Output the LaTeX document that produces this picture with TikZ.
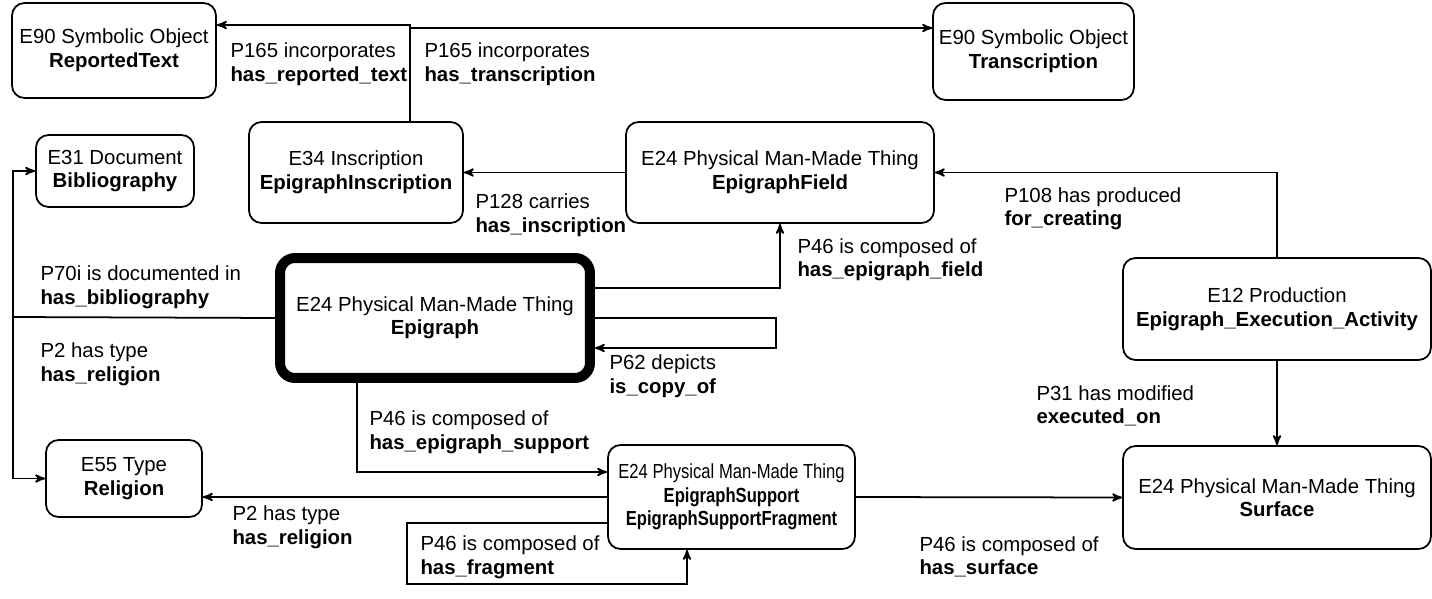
\documentclass[tikz,border=0pt]{standalone}
\usepackage{fontspec}
\setmainfont{Liberation Sans}
\usepackage{tikz}
\usetikzlibrary{arrows}

\begin{document}
\begin{tikzpicture}[->, >=stealth', semithick, x=0.02cm, y=-0.02cm, font=\fontsize{11.6}{13.4}\selectfont]
			\tikzstyle{class}=[draw, rounded corners=0.25cm, align=center, inner sep=0pt, line width=1pt]
			\tikzstyle{prop}=[align=left, anchor=west, inner sep=0pt]
			\tikzstyle{link}=[line width=1pt]
			
			\useasboundingbox (0,0) rectangle (1432,598);
			
			\node[class, minimum width=4.08cm, minimum height=1.9cm] (rep) at (114,50.5) {E90 Symbolic Object\\\textbf{ReportedText}};
			\node[class, minimum width=4.02cm, minimum height=1.94cm] (trans) at (1033.5,51.5) {E90 Symbolic Object\\\textbf{Transcription}};
			\node[class, minimum width=3.16cm, minimum height=1.44cm] (bib) at (115,171) {E31 Document\\\textbf{Bibliography}};
			\node[class, minimum width=4.28cm, minimum height=2.02cm] (inscr) at (356,172.5) {E34 Inscription\\\textbf{EpigraphInscription}};
			\node[class, minimum width=6.16cm, minimum height=2.02cm] (field) at (780,172.5) {E24 Physical Man-Made Thing\\\textbf{EpigraphField}};
			\node[class, line width=0.2cm, rounded corners=0.3cm, minimum width=6.2cm, minimum height=2.4cm] (epi) at (435,318) {E24 Physical Man-Made Thing\\\textbf{Epigraph}};
			\node[class, minimum width=6.16cm, minimum height=2.04cm] (prod) at (1277,309) {E12 Production\\\textbf{Epigraph\_Execution\_Activity}};
			\node[class, minimum width=3.12cm, minimum height=1.54cm] (rel) at (124,478.5) {E55 Type\\\textbf{Religion}};
			\node[class, minimum width=4.94cm, minimum height=2.08cm, font=\fontsize{11.6}{13.4}\selectfont\addfontfeatures{FakeStretch=0.815}] (sup) at (731.5,497) {E24 Physical Man-Made Thing\\\textbf{EpigraphSupport}\\\textbf{EpigraphSupportFragment}};
			\node[class, minimum width=6.16cm, minimum height=2.06cm] (surf) at (1277,497.5) {E24 Physical Man-Made Thing\\\textbf{Surface}};
			
			\coordinate (jl) at (13,317);
			\coordinate (eloop) at (776,348);
			\coordinate (floop) at (407,584);
			
			\draw[link] ([xshift=1.08cm]inscr.north) |- ([yshift=0.51cm]rep.east);
			\draw[link] ([xshift=1.08cm]inscr.north) |- ([yshift=0.47cm]trans.west);
			\draw[link] (field.west) -- (inscr.east);
			\draw[link] (prod.north) |- (field.east);
			\draw[link] ([yshift=0.6cm]epi.east) -| (field.south);
			\draw[link] (epi.east) -| (eloop) -- ([yshift=-0.6cm]epi.east);
			\draw[link] (epi.west) -- (jl) |- (bib.west);
			\draw[link] (jl) |- (rel.west);
			\draw[link] ([xshift=-1.56cm]epi.south) |- ([yshift=0.5cm]sup.west);
			\draw[link] (sup.west) -- (sup.west -| rel.east);
			\draw[link] ([yshift=-0.52cm]sup.west) -| (floop) -| ([xshift=-0.89cm]sup.south);
			\draw[link] (sup.east) -- (surf.west);
			\draw[link] (prod.south) -- (surf.north);
			
			\node[prop] (lrep) at (230,64) {P165 incorporates\\\textbf{has\_reported\_text}};
			\node[prop] (ltrans) at (424,64) {P165 incorporates\\\textbf{has\_transcription}};
			\node[prop] (lcarries) at (475,215) {P128 carries\\\textbf{has\_inscription}};
			\node[prop] (lprod) at (1004,209) {P108 has produced\\\textbf{for\_creating}};
			\node[prop] (lfield) at (797,260) {P46 is composed of\\\textbf{has\_epigraph\_field}};
			\node[prop] (lbib) at (40,287) {P70i is documented in\\\textbf{has\_bibliography}};
			\node[prop] (lrel) at (40,364.5) {P2 has type\\\textbf{has\_religion}};
			\node[prop] (lcopy) at (609,376) {P62 depicts\\\textbf{is\_copy\_of}};
			\node[prop] (lsup) at (369,432) {P46 is composed of\\\textbf{has\_epigraph\_support}};
			\node[prop] (lrel2) at (232,527) {P2 has type\\\textbf{has\_religion}};
			\node[prop] (lfrag) at (420,557) {P46 is composed of\\\textbf{has\_fragment}};
			\node[prop] (lsurf) at (919,557) {P46 is composed of\\\textbf{has\_surface}};
			\node[prop] (lexec) at (1036,406) {P31 has modified\\\textbf{executed\_on}};
		\end{tikzpicture}
\end{document}
